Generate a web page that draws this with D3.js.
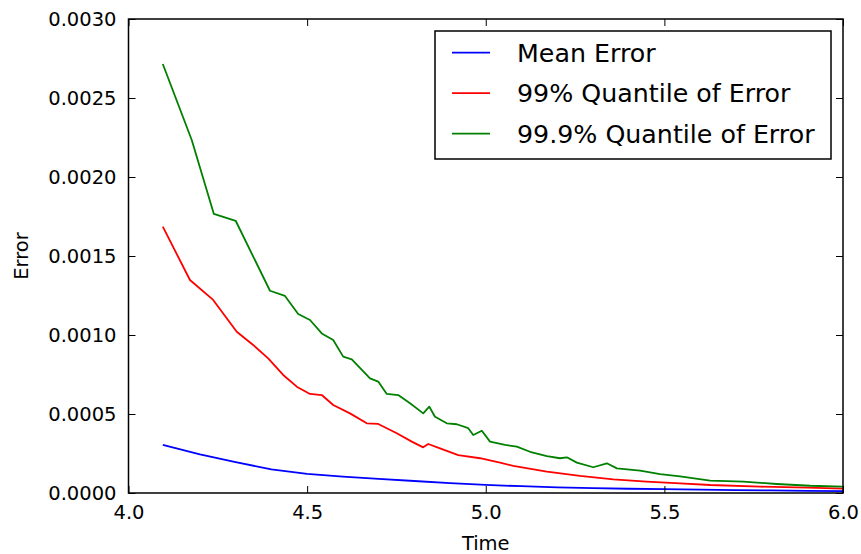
<!DOCTYPE html>
<html>
<head>
<meta charset="utf-8">
<script src="https://cdn.jsdelivr.net/npm/d3@7"></script>
<style>
  html, body { margin: 0; padding: 0; background: #fff; }
  svg { display: block; }
  text { font-family: "DejaVu Sans", sans-serif; fill: #000; }
</style>
</head>
<body>
<svg id="chart" width="861" height="554"></svg>
<script>
// ---------- data ----------
const seriesNames = ["Mean Error", "99% Quantile of Error", "99.9% Quantile of Error"];
const seriesColors = ["#0000ff", "#ff0000", "#008000"];

const meanTime   = [4.096, 4.2, 4.3, 4.4, 4.5, 4.6, 4.7, 4.8, 4.9, 5.0, 5.1, 5.2, 5.3, 5.4, 5.5, 5.6, 5.7, 5.8, 5.9, 6.0];
const meanValues = [0.000305, 0.000245, 0.000195, 0.000150, 0.000121, 0.000103, 0.000089, 0.000076, 0.000063, 0.000051,
                    0.000043, 0.000036, 0.000031, 0.000027, 0.000024, 0.000021, 0.000018, 0.000016, 0.000014, 0.000012];

const q99Time   = [4.096, 4.172, 4.237, 4.303, 4.349, 4.391, 4.433, 4.471, 4.508, 4.541, 4.573, 4.620, 4.667, 4.699,
                   4.751, 4.793, 4.825, 4.839, 4.872, 4.923, 4.984, 5.04, 5.077, 5.171, 5.264, 5.357, 5.45, 5.544,
                   5.628, 5.768, 5.9, 6.0];
const q99Values = [0.001686, 0.001348, 0.001222, 0.001021, 0.000937, 0.000852, 0.000747, 0.000673, 0.000627, 0.000620,
                   0.000557, 0.000504, 0.000441, 0.000437, 0.000378, 0.000325, 0.000289, 0.000310, 0.000283, 0.000240,
                   0.000220, 0.000192, 0.000171, 0.000135, 0.000108, 0.0000865, 0.0000716, 0.0000612, 0.0000506,
                   0.0000400, 0.0000338, 0.0000275];

const q999Time   = [4.096, 4.177, 4.239, 4.300, 4.396, 4.438, 4.475, 4.508, 4.541, 4.573, 4.601, 4.625, 4.676, 4.699,
                    4.723, 4.755, 4.788, 4.825, 4.842, 4.858, 4.891, 4.919, 4.951, 4.965, 4.989, 5.012, 5.054, 5.087,
                    5.124, 5.171, 5.208, 5.227, 5.255, 5.301, 5.339, 5.367, 5.432, 5.488, 5.544, 5.628, 5.721, 5.814,
                    5.908, 6.0];
const q999Values = [0.002715, 0.002234, 0.001766, 0.001723, 0.001280, 0.001247, 0.001133, 0.001095, 0.001010, 0.000968,
                    0.000863, 0.000846, 0.000726, 0.000705, 0.000627, 0.000620, 0.000568, 0.000504, 0.000546, 0.000483,
                    0.000441, 0.000435, 0.000410, 0.000367, 0.000394, 0.000325, 0.000304, 0.000293, 0.000261, 0.000234,
                    0.000220, 0.000226, 0.000192, 0.000163, 0.000188, 0.000156, 0.000141, 0.000120, 0.000105, 0.000078,
                    0.000072, 0.000057, 0.000046, 0.000040];

const xTicks = [4.0, 4.5, 5.0, 5.5, 6.0];
const yTicks = [0.0000, 0.0005, 0.0010, 0.0015, 0.0020, 0.0025, 0.0030];

const series = [
  { name: seriesNames[0], color: seriesColors[0], t: meanTime, v: meanValues },
  { name: seriesNames[1], color: seriesColors[1], t: q99Time,  v: q99Values },
  { name: seriesNames[2], color: seriesColors[2], t: q999Time, v: q999Values }
];

// ---------- layout ----------
const svg = d3.select("#chart");
const plot = { left: 128.5, right: 843, top: 19, bottom: 493 };

const x = d3.scaleLinear().domain([4.0, 6.0]).range([plot.left, plot.right]);
const y = d3.scaleLinear().domain([0, 0.003]).range([plot.bottom, plot.top]);

svg.append("defs").append("clipPath").attr("id", "clip")
  .append("rect")
  .attr("x", plot.left).attr("y", plot.top)
  .attr("width", plot.right - plot.left).attr("height", plot.bottom - plot.top);

// lines
const line = d3.line().x(d => x(d[0])).y(d => y(d[1]));
const lines = svg.append("g").attr("clip-path", "url(#clip)");
series.forEach(s => {
  lines.append("path")
    .datum(s.t.map((t, i) => [t, s.v[i]]))
    .attr("fill", "none")
    .attr("stroke", s.color)
    .attr("stroke-width", 1.8)
    .attr("stroke-linejoin", "round")
    .attr("d", line);
});

// axes: ticks inward on all four sides
const tickLen = 7;
const fontSize = 19.5;

const bottomAxis = d3.axisBottom(x).tickValues(xTicks).tickFormat(d3.format(".1f"))
  .tickSizeInner(-tickLen).tickSizeOuter(0).tickPadding(12);
const topAxis = d3.axisTop(x).tickValues(xTicks).tickFormat("")
  .tickSizeInner(-tickLen).tickSizeOuter(0);
const leftAxis = d3.axisLeft(y).tickValues(yTicks).tickFormat(d3.format(".4f"))
  .tickSizeInner(-tickLen).tickSizeOuter(0).tickPadding(12);
const rightAxis = d3.axisRight(y).tickValues(yTicks).tickFormat("")
  .tickSizeInner(-tickLen).tickSizeOuter(0);

function styleAxis(g) {
  g.select(".domain").remove();
  g.selectAll(".tick line").attr("stroke", "#000").attr("stroke-width", 1);
  g.selectAll(".tick text").attr("font-size", fontSize).attr("fill", "#222")
    .style("font-family", "'DejaVu Sans', sans-serif");
}

svg.append("g").attr("transform", `translate(0,${plot.bottom})`).call(bottomAxis).call(styleAxis)
  .selectAll(".tick text").attr("dy", "0.71em");
svg.append("g").attr("transform", `translate(0,${plot.top})`).call(topAxis).call(styleAxis);
svg.append("g").attr("transform", `translate(${plot.left},0)`).call(leftAxis).call(styleAxis);
svg.append("g").attr("transform", `translate(${plot.right},0)`).call(rightAxis).call(styleAxis);

// frame
svg.append("rect")
  .attr("x", plot.left).attr("y", plot.top)
  .attr("width", plot.right - plot.left).attr("height", plot.bottom - plot.top)
  .attr("fill", "none").attr("stroke", "#000").attr("stroke-width", 1.5);

// axis labels
svg.append("text")
  .attr("x", (plot.left + plot.right) / 2).attr("y", 550)
  .attr("text-anchor", "middle").attr("font-size", fontSize).attr("fill", "#222")
  .text("Time");
svg.append("text")
  .attr("transform", `translate(28,${(plot.top + plot.bottom) / 2}) rotate(-90)`)
  .attr("text-anchor", "middle").attr("font-size", fontSize).attr("fill", "#222")
  .text("Error");

// legend
const legend = svg.append("g");
legend.append("rect")
  .attr("x", 435).attr("y", 31).attr("width", 396).attr("height", 128)
  .attr("fill", "#fff").attr("stroke", "#000").attr("stroke-width", 1.5);
series.forEach((s, i) => {
  const ly = 52.7 + i * 40.5;
  legend.append("line")
    .attr("x1", 452).attr("x2", 490).attr("y1", ly).attr("y2", ly)
    .attr("stroke", s.color).attr("stroke-width", 1.8);
  legend.append("text")
    .attr("x", 517).attr("y", ly).attr("dy", "0.35em")
    .attr("font-size", 25.3).attr("fill", "#222")
    .text(s.name);
});
</script>
</body>
</html>
